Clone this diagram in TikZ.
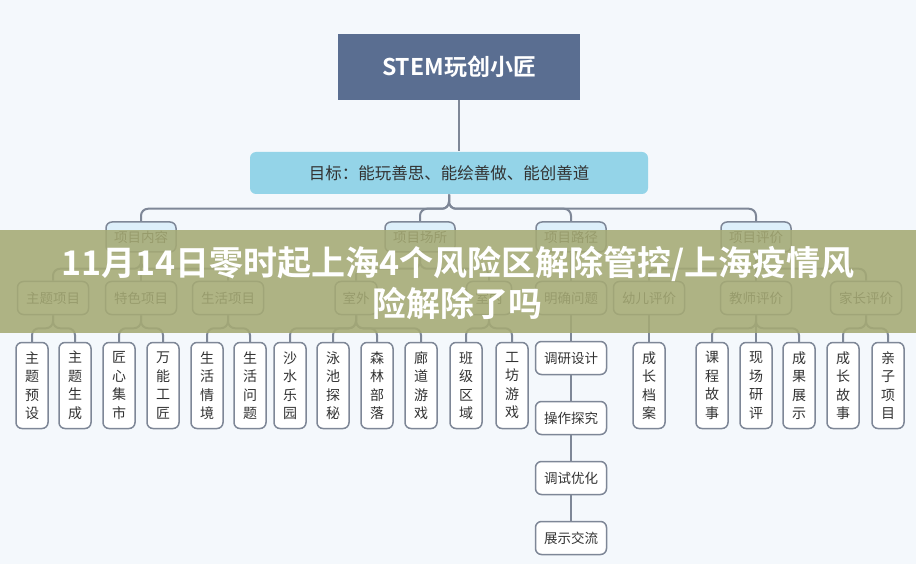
\documentclass[tikz,border=0pt]{standalone}
\usepackage{fontspec}
\newfontfamily\cjk[BoldFont={Noto Sans CJK SC Bold}]{Noto Sans CJK SC}
\usetikzlibrary{arrows}
\definecolor{bgc}{HTML}{F4F8FC}
\definecolor{linec}{HTML}{7E8797}
\definecolor{topc}{HTML}{5A6E91}
\definecolor{goalc}{HTML}{94D4E8}
\definecolor{secc}{HTML}{DDEFFA}
\definecolor{bandc}{HTML}{A5AA74}
\tikzset{
  box/.style={draw=linec, line width=1.5pt, rounded corners=6pt, fill=white, inner sep=0pt, font=\cjk\fontsize{13.5}{16}\selectfont, text=black!80},
  leaf/.style={box, minimum width=32pt, minimum height=86pt, align=center, font=\cjk\fontsize{14}{18.5}\selectfont},
  mid/.style={box, minimum width=71pt, minimum height=33pt},
  sec/.style={box, fill=secc, minimum width=70pt, minimum height=30pt},
  link/.style={draw=linec, line width=2pt, rounded corners=7pt}
}
\begin{document}
\begin{tikzpicture}[x=1pt, y=-1pt]
% Drawing background
\fill[bgc] (0,0) rectangle (916,564);
\useasboundingbox (0,0) rectangle (916,564);

% Drawing head and goal
\node[fill=topc, minimum width=242pt, minimum height=66pt, text=white, font=\cjk\bfseries\fontsize{23}{26}\selectfont] (top) at (459,67) {STEM玩创小匠};
\node[box, draw=none, fill=goalc, minimum width=398pt, minimum height=42pt, font=\cjk\fontsize{16.5}{20}\selectfont] (goal) at (449,173) {目标：能玩善思、能绘善做、能创善道};
\draw[link] (top.south) -- (goal.north -| top.south);

% Drawing second level
\node[sec] (cont) at (141,237) {项目内容};
\node[sec] (site) at (420,237) {项目场所};
\node[sec] (path) at (571,237) {项目路径};
\node[sec] (eval) at (756,237) {项目评价};
\foreach \n in {cont,site,path,eval}
  \draw[link] (goal.south) -- ++(0,14) -| (\n.north);

% Drawing third level
\node[mid] (theme) at (53,298) {主题项目};
\node[mid] (feat) at (141,298) {特色项目};
\node[mid] (life) at (228,298) {生活项目};
\node[mid, minimum width=42pt] (out) at (356,298) {室外};
\node[mid, minimum width=45pt] (in) at (489,298) {室内};
\node[mid] (prob) at (571,298) {明确问题};
\node[mid] (kid) at (649,298) {幼儿评价};
\node[mid] (teach) at (756,298) {教师评价};
\node[mid] (par) at (866,298) {家长评价};
\foreach \p/\c in {cont/theme,cont/feat,cont/life,site/out,site/in,path/prob,eval/kid,eval/teach,eval/par}
  \draw[link] (\p.south) -- ++(0,16) -| (\c.north);

% Drawing leaves
\foreach \n/\x/\p/\t in {a/32/theme/主\\题\\预\\设, b/75/theme/主\\题\\生\\成,
  c/119/feat/匠\\心\\集\\市, d/163/feat/万\\能\\工\\匠,
  e/207/life/生\\活\\情\\境, f/250/life/生\\活\\问\\题,
  g/290/out/沙\\水\\乐\\园, h/333/out/泳\\池\\探\\秘, i/377/out/森\\林\\部\\落, j/421/out/廊\\道\\游\\戏,
  k/466/in/班\\级\\区\\域, l/512/in/工\\坊\\游\\戏,
  m/649/kid/成\\长\\档\\案,
  n/712/teach/课\\程\\故\\事, o/756/teach/现\\场\\研\\评, q/799/teach/成\\果\\展\\示,
  r/843/par/成\\长\\故\\事, s/888/par/亲\\子\\项\\目}
{
  \node[leaf] (\n) at (\x,385.5) {\t};
  \draw[link] (\p.south) -- ++(0,13) -| (\n.north);
}

% Drawing path chain
\node[mid] (st1) at (571,358) {调研设计};
\node[mid] (st2) at (571,418) {操作探究};
\node[mid] (st3) at (571,478) {调试优化};
\node[mid] (st4) at (571,538) {展示交流};
\draw[link] (prob) -- (st1);
\draw[link] (st1) -- (st2);
\draw[link] (st2) -- (st3);
\draw[link] (st3) -- (st4);

% Drawing banner
\fill[bandc, opacity=0.88] (0,230) rectangle (916,333);
\node[text=white, align=center, font=\cjk\bfseries\fontsize{34}{41}\selectfont] (band) at (458,283) {11月14日零时起上海4个风险区解除管控/上海疫情风\\险解除了吗};
\end{tikzpicture}
\end{document}
